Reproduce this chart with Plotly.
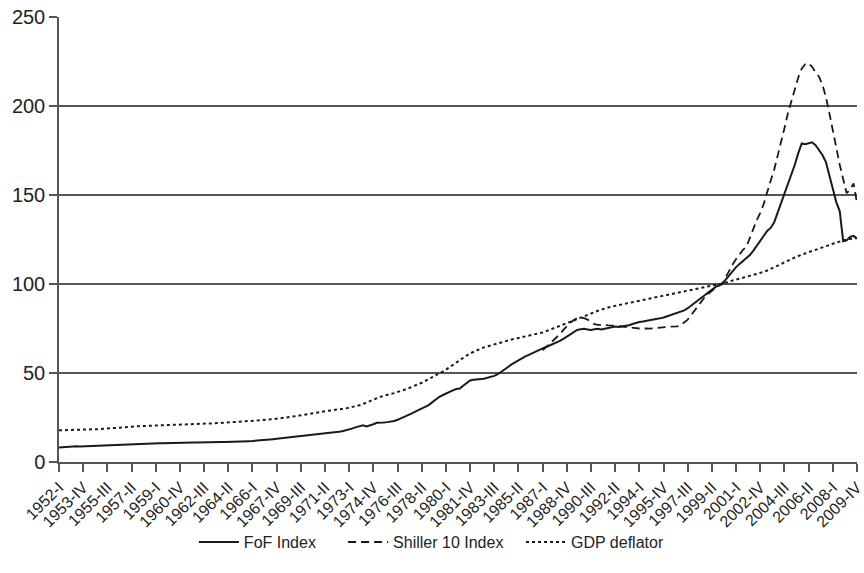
import plotly.graph_objects as go

# Quarterly categories 1952-I .. 2009-IV
years = list(range(1952, 2010))
roman = ["I", "II", "III", "IV"]
quarters = [f"{y}-{r}" for y in years for r in roman]
tick_labels = quarters[::7]

fof = [
    8.2, 8.4, 8.6, 8.7,   8.8, 8.9, 8.7, 8.8,   8.9, 8.8, 8.9, 9.1,   9.2, 9.3, 9.4, 9.5,
    9.6, 9.7, 9.8, 9.8,   9.9, 10.0, 10.1, 10.1, 10.2, 10.3, 10.3, 10.4, 10.4, 10.5, 10.5, 10.6,
    10.6, 10.7, 10.7, 10.8, 10.8, 10.9, 10.9, 11.0, 11.0, 11.1, 11.1, 11.2, 11.2, 11.2, 11.3, 11.3,
    11.3, 11.3, 11.4, 11.4, 11.5, 11.6, 11.6, 11.7, 11.8, 11.9, 12.0, 12.2, 12.4, 12.6, 12.8, 13.0,
    13.2, 13.4, 13.6, 13.8, 14.0, 14.4, 14.8, 15.0, 15.2, 15.4, 15.6, 15.8, 16.0, 16.2, 16.4, 16.6,
    16.8, 17.0, 17.3, 17.7, 18.2, 18.9, 19.6, 20.3, 20.6, 20.0, 20.4, 21.2, 22.0, 22.3, 22.2, 22.4,
    22.5, 23.0, 23.7, 24.5, 25.3, 26.2, 27.2, 28.2, 29.2, 30.0, 30.9, 32.0, 33.5, 35.2, 36.5, 37.5,
    38.5, 39.3, 40.2, 41.0, 41.3, 42.8, 44.3, 45.8, 46.2, 46.3, 46.4, 46.8, 47.3, 47.8, 48.4, 49.3,
    50.5, 52.0, 53.4, 54.8, 56.0, 57.2, 58.3, 59.3, 60.2, 61.2, 62.0, 62.9, 63.8, 64.6, 65.4, 66.2,
    67.0, 68.0, 69.2, 70.5, 71.8, 73.0, 74.2, 74.6, 74.8, 74.5, 74.2, 74.6, 74.8, 74.4, 74.9, 75.3,
    75.8, 76.1, 75.8, 76.0, 76.2, 76.8, 77.5, 78.2, 78.6, 78.9, 79.2, 79.5, 79.8, 80.2, 80.7, 81.2,
    81.8, 82.4, 83.0, 83.6, 84.2, 85.2, 86.4, 87.8, 89.2, 90.5, 92.0, 93.8, 95.3, 96.8, 98.2, 99.2,
    100.0, 102.4, 104.8, 107.2, 109.5, 111.3, 112.8, 114.6, 116.3, 118.8, 121.5, 124.5,
    127.5, 129.8, 131.5, 134.5, 140.0, 145.5, 151.0, 156.5, 161.0, 167.0, 173.5, 179.0,
    178.5, 179.0, 179.6, 178.0, 175.5, 172.5, 168.5, 161.0, 152.0, 146.0, 141.0, 124.0,
    124.5, 126.5, 127.0, 125.5,
]

shiller_start = 140  # 1987-I
shiller_vals = [
    62.7, 64.5, 66.2, 67.8, 69.5, 71.8, 74.2, 76.4, 78.2, 79.8, 80.8, 81.1,
    80.8, 80.0, 78.6, 77.4, 77.0, 77.2, 77.0, 76.8, 76.8, 76.6, 76.3, 76.0,
    75.8, 75.6, 75.4, 75.2, 75.0, 75.2, 75.0, 74.9, 75.0, 75.2, 75.5, 75.7,
    75.8, 76.0, 76.0, 76.2, 77.0, 78.4, 80.0, 82.6, 85.0, 87.8, 90.3, 92.8,
    94.5, 96.2, 97.8, 99.0, 100.0, 103.8, 107.5, 111.0, 114.0, 116.8, 119.2, 121.0,
    125.5, 131.0, 136.0, 140.0, 145.0, 152.0, 158.0, 164.0, 171.5, 180.0, 187.5, 196.0,
    203.0, 210.0, 216.0, 221.0, 223.5, 224.0, 222.0, 219.0, 216.5, 212.0, 205.0, 196.0,
    186.0, 177.0, 167.0, 159.0, 151.0, 153.0, 156.5, 145.5,
]
shiller = [None] * shiller_start + shiller_vals

gdp = [
    17.8, 17.9, 18.0, 18.1, 18.1, 18.2, 18.2, 18.3, 18.3, 18.3, 18.4, 18.4, 18.5, 18.6, 18.7, 18.9,
    19.0, 19.2, 19.4, 19.5, 19.7, 19.8, 20.0, 20.0, 20.1, 20.2, 20.3, 20.4, 20.5, 20.6, 20.7, 20.7,
    20.8, 20.9, 21.0, 21.0, 21.1, 21.1, 21.2, 21.3, 21.4, 21.4, 21.5, 21.6, 21.6, 21.7, 21.8, 21.9,
    22.0, 22.1, 22.2, 22.3, 22.4, 22.5, 22.7, 22.8, 23.0, 23.2, 23.4, 23.6, 23.7, 23.8, 24.1, 24.3,
    24.5, 24.8, 25.0, 25.3, 25.6, 25.9, 26.2, 26.5, 26.9, 27.2, 27.5, 27.8, 28.2, 28.5, 28.8, 29.0,
    29.4, 29.6, 29.8, 30.1, 30.5, 30.9, 31.4, 31.9, 32.6, 33.4, 34.4, 35.4, 36.0, 36.6, 37.2, 37.9,
    38.3, 38.7, 39.2, 39.8, 40.6, 41.3, 42.0, 42.7, 43.5, 44.5, 45.5, 46.5, 47.5, 48.6, 49.6, 50.6,
    51.8, 53.2, 54.6, 56.0, 57.3, 58.5, 59.8, 61.0, 62.0, 62.8, 63.6, 64.4, 65.0, 65.6, 66.2, 66.8,
    67.3, 67.8, 68.3, 68.8, 69.2, 69.6, 70.0, 70.4, 70.8, 71.2, 71.6, 72.0, 72.8, 73.5, 74.2, 74.9,
    75.6, 76.4, 77.2, 78.0, 78.8, 79.5, 80.3, 81.0, 81.8, 82.6, 83.4, 84.2, 85.0, 85.7, 86.3, 86.8,
    87.3, 87.8, 88.2, 88.6, 89.0, 89.4, 89.8, 90.2, 90.6, 91.0, 91.4, 91.7, 92.1, 92.5, 92.9, 93.3,
    93.7, 94.1, 94.5, 94.9, 95.3, 95.7, 96.1, 96.5, 96.9, 97.3, 97.7, 98.1, 98.5, 98.9, 99.3, 99.7,
    100.0, 100.7, 101.4, 102.0, 102.6, 103.1, 103.6, 104.1, 104.6, 105.1, 105.6, 106.2,
    106.8, 107.6, 108.4, 109.3, 110.2, 111.2, 112.2, 113.2, 114.0, 114.9, 115.7, 116.5,
    117.2, 117.9, 118.6, 119.2, 119.8, 120.5, 121.2, 121.9, 122.6, 123.3, 124.0, 124.6,
    125.0, 125.3, 125.6, 125.9,
]

y_ticks = [0, 50, 100, 150, 200, 250]

ink = "#1a1a1a"
grid = "#555555"
font_family = "Liberation Sans, Arial, Helvetica, sans-serif"

fig = go.Figure()
fig.add_trace(go.Scatter(x=quarters, y=fof, mode="lines", name="FoF Index",
                         line=dict(color=ink, width=2), legend="legend"))
fig.add_trace(go.Scatter(x=quarters, y=shiller, mode="lines", name="Shiller 10 Index",
                         line=dict(color=ink, width=1.8, dash="8px,5px"), legend="legend2"))
fig.add_trace(go.Scatter(x=quarters, y=gdp, mode="lines", name="GDP deflator",
                         line=dict(color=ink, width=2, dash="dot"), legend="legend3"))

leg_common = dict(orientation="h", xanchor="left", y=-0.18, yanchor="middle",
                  font=dict(size=16, color="#222222"), itemwidth=40,
                  bgcolor="rgba(0,0,0,0)")

fig.update_layout(
    width=864, height=573,
    margin=dict(l=59, r=7, t=17, b=111),
    paper_bgcolor="white", plot_bgcolor="white",
    font=dict(family=font_family, color="#222222"),
    showlegend=True,
    legend=dict(x=0.169, **leg_common),
    legend2=dict(x=0.356, **leg_common),
    legend3=dict(x=0.579, **leg_common),
)
fig.update_xaxes(
    type="category", range=[0, len(quarters) - 1], automargin=False,
    tickmode="array", tickvals=tick_labels, ticktext=tick_labels,
    tickangle=-45, tickfont=dict(size=16, color="#222222"),
    ticks="outside", ticklen=8, tickcolor=grid, tickwidth=1.5,
    showline=True, linecolor=grid, linewidth=1.5,
    showgrid=False, zeroline=False, ticklabeloverflow="allow",
)
fig.update_yaxes(
    range=[0, 250], tickmode="array", tickvals=y_ticks, automargin=False,
    tickfont=dict(size=20, color="#222222"),
    ticks="outside", ticklen=8, tickcolor=grid, tickwidth=1.5,
    showline=True, linecolor=grid, linewidth=1.5,
    showgrid=True, gridcolor=grid, gridwidth=1.5, zeroline=False,
    ticklabeloverflow="allow",
)

fig.write_html("out.html",
               config={"displayModeBar": False},
               post_script="document.body.style.margin='0';document.body.style.padding='0';")
